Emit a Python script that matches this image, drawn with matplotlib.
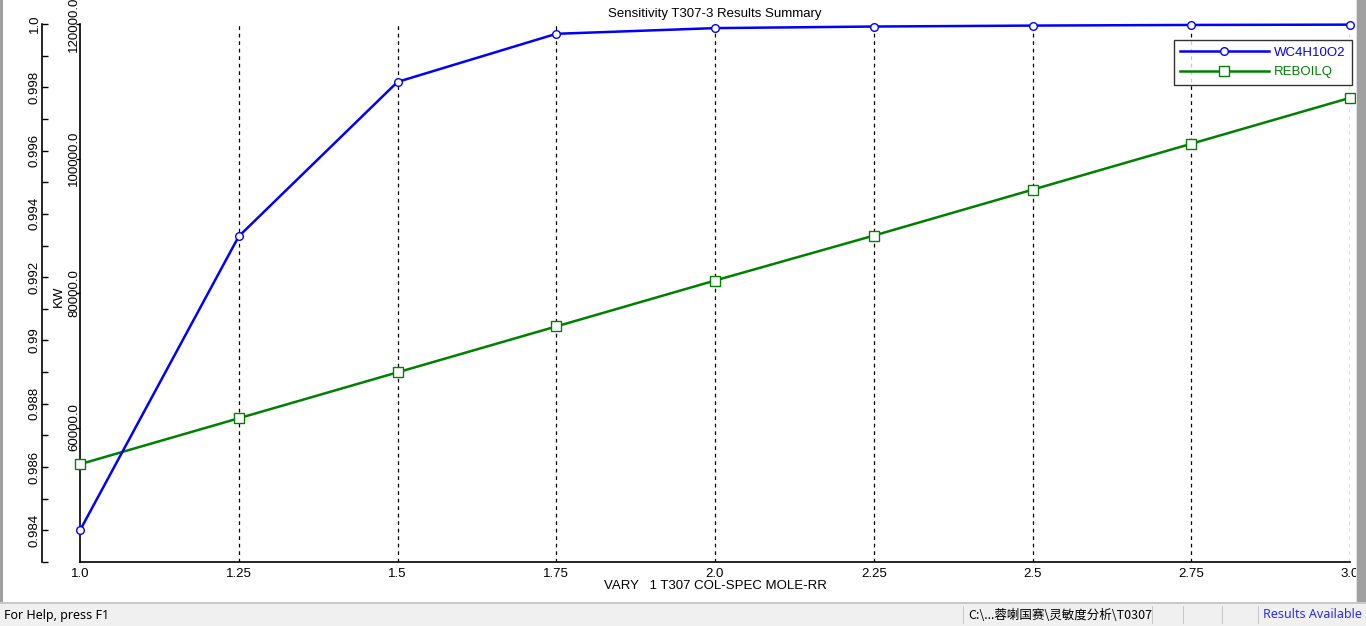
import numpy as np
import matplotlib
matplotlib.use("Agg")
import matplotlib.pyplot as plt
from matplotlib.patches import Rectangle
from matplotlib.lines import Line2D
from matplotlib.ticker import MultipleLocator, FixedLocator, FixedFormatter

plt.rcParams['font.family'] = ['Liberation Sans', 'Noto Sans CJK SC', 'DejaVu Sans']

# data
rr = [1.0, 1.25, 1.5, 1.75, 2.0, 2.25, 2.5, 2.75, 3.0]
wc4h10o2 = [0.98400, 0.99329, 0.99817, 0.99969, 0.99987, 0.99992, 0.99995, 0.99997, 0.99998]
reboilq = [54545, 61373, 68200, 75028, 81855, 88534, 95362, 102189, 109017]

x_ticks = [1.0, 1.25, 1.5, 1.75, 2.0, 2.25, 2.5, 2.75, 3.0]
x_labels = ['1.0', '1.25', '1.5', '1.75', '2.0', '2.25', '2.5', '2.75', '3.0']
kw_ticks = [60000, 80000, 100000, 120000]
kw_labels = ['60000.0', '80000.0', '100000.0', '120000.0']
frac_ticks = [0.984, 0.986, 0.988, 0.99, 0.992, 0.994, 0.996, 0.998, 1.0]
frac_labels = ['0.984', '0.986', '0.988', '0.99', '0.992', '0.994', '0.996', '0.998', '1.0']

W, H = 1366, 626
fig = plt.figure(figsize=(W / 100, H / 100), dpi=100)
fig.patch.set_facecolor('white')

# axes box in pixels: x 80..1350, y 24..562 (from top)
ax = fig.add_axes([80 / W, (H - 562) / H, (1350 - 80) / W, (562 - 24) / H])
ax.set_facecolor('none')
fs = 9.5

# KW axis (inner)
ax.plot(rr, reboilq, color='#008000', lw=1.8, marker='s', ms=6.5,
        mfc='white', mec='#008000', mew=1.0, zorder=3, clip_on=False)
ax.set_xlim(1.0, 3.0)
ax.set_ylim(40000, 120000)
ax.yaxis.set_major_locator(FixedLocator(kw_ticks))
ax.yaxis.set_major_formatter(FixedFormatter(kw_labels))
ax.xaxis.set_major_locator(FixedLocator(x_ticks))
ax.xaxis.set_major_formatter(FixedFormatter(x_labels))
ax.tick_params(axis='y', direction='out', length=3, width=1, pad=-3, labelsize=fs)
ax.tick_params(axis='x', direction='out', length=0, width=1, pad=4, labelsize=fs)
for lab in ax.get_yticklabels():
    lab.set_rotation(90)
    lab.set_va('center')
for s in ['top', 'right']:
    ax.spines[s].set_visible(False)
for s in ['left', 'bottom']:
    ax.spines[s].set_linewidth(1.2)
for xv in x_ticks[1:]:
    ax.axvline(xv, color='black', lw=0.9, ls=(0, (3, 3)), zorder=1)

# mole fraction axis (outer)
ax2 = ax.twinx()
ax2.set_facecolor('none')
ax2.plot(rr, wc4h10o2, color='#0000ff', lw=1.8, marker='o', ms=5.5,
         mfc='white', mec='#0000ff', mew=1.0, zorder=4, clip_on=False)
ax2.set_ylim(0.983, 1.0)
ax2.yaxis.set_ticks_position('left')
ax2.yaxis.set_label_position('left')
ax2.spines['left'].set_position(('outward', 38 * 0.72))
ax2.spines['left'].set_linewidth(1.2)
for s in ['top', 'right', 'bottom']:
    ax2.spines[s].set_visible(False)
ax2.yaxis.set_major_locator(FixedLocator(frac_ticks))
ax2.yaxis.set_major_formatter(FixedFormatter(frac_labels))
ax2.yaxis.set_minor_locator(MultipleLocator(0.001))
ax2.tick_params(axis='y', which='major', direction='in', length=4, width=1, pad=1, labelsize=fs)
ax2.tick_params(axis='y', which='minor', direction='in', length=4, width=1)
for lab in ax2.get_yticklabels():
    lab.set_rotation(90)
    lab.set_va('center')

# texts
fig.text(715 / W, 1 - 14 / H, 'Sensitivity T307-3 Results Summary', ha='center', va='center', fontsize=fs)
fig.text(715 / W, 1 - 586 / H, 'VARY   1 T307 COL-SPEC MOLE-RR', ha='center', va='center', fontsize=fs)
fig.text(59 / W, 1 - 296 / H, 'KW', ha='center', va='center', rotation=90, fontsize=fs)

# legend
handles = [Line2D([], [], color='#0000ff', lw=1.8, marker='o', ms=5.5, mfc='white', mec='#0000ff'),
           Line2D([], [], color='#008000', lw=1.8, marker='s', ms=6.5, mfc='white', mec='#008000')]
leg = ax2.legend(handles, ['WC4H10O2', 'REBOILQ'], loc='upper right',
                 bbox_to_anchor=(1352 / W, 1 - 40 / H), bbox_transform=fig.transFigure,
                 fontsize=fs, frameon=True, fancybox=False, handlelength=6.7,
                 handletextpad=0.4, borderpad=0.5, labelspacing=0.55, borderaxespad=0)
leg.get_frame().set_edgecolor('black')
leg.get_frame().set_linewidth(1.0)
for t, c in zip(leg.get_texts(), ['#0000ff', '#008000']):
    t.set_color(c)

# window frame and status bar
def px_rect(x0, y0, x1, y1, color, z=0):
    fig.patches.append(Rectangle((x0 / W, 1 - y1 / H), (x1 - x0) / W, (y1 - y0) / H,
                                 transform=fig.transFigure, facecolor=color,
                                 edgecolor='none', zorder=z))

px_rect(0, 0, 3, 604, '#a0a0a0')
px_rect(1357, 0, 1366, 604, '#a0a0a0')
px_rect(1356, 0, 1357, 604, '#e0e0e0')
px_rect(0, 602, W, 604, '#c8c8c8')
px_rect(0, 604, W, 626, '#f0f0f0')
for sx in [963, 1152, 1183, 1222, 1258]:
    px_rect(sx, 606, sx + 1, 624, '#c8c8c8')
fig.text(4 / W, 1 - 615 / H, 'For Help, press F1', ha='left', va='center',
         fontsize=9, family=['Noto Sans', 'DejaVu Sans'])
fig.text(968 / W, 1 - 615 / H, 'C:\\...蓉喇国赛\\灵敏度分析\\T0307', ha='left', va='center',
         fontsize=9, family=['Noto Sans CJK SC', 'DejaVu Sans'])
fig.text(1362 / W, 1 - 615 / H, 'Results Available', ha='right', va='center',
         fontsize=9, color='#2b2bff', family=['Noto Sans', 'DejaVu Sans'])

fig.savefig('out.png', dpi=100)
